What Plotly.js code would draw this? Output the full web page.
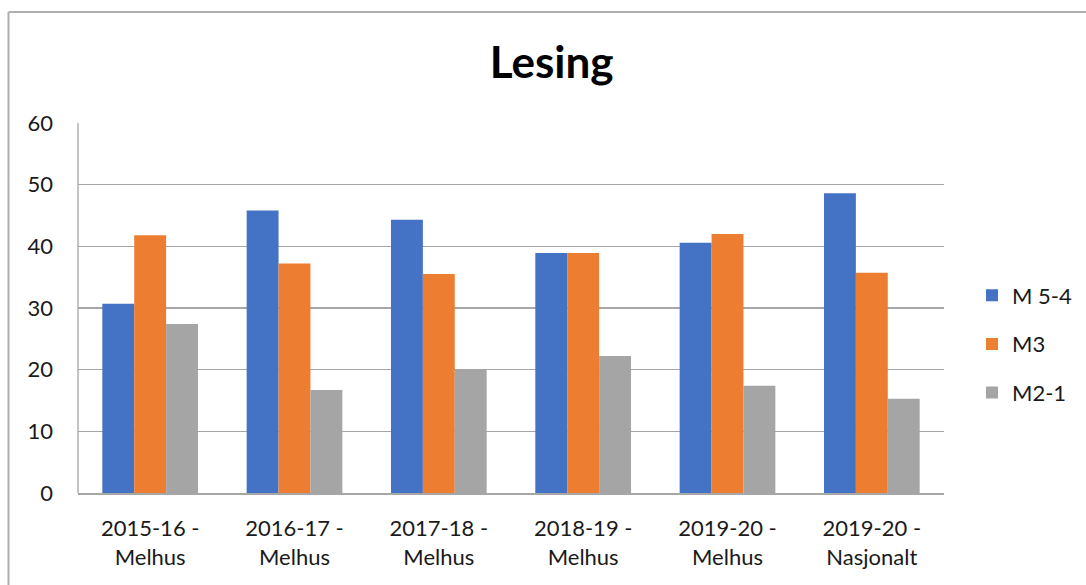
<!DOCTYPE html>
<html>
<head>
<meta charset="utf-8">
<script src="https://cdn.plot.ly/plotly-3.0.1.min.js"></script>
<style>html,body{margin:0;padding:0;background:#fff;}#chart{width:1086px;height:585px;}</style>
</head>
<body>
<div id="chart"></div>
<script>
const categories = ["2015-16 -<br>Melhus", "2016-17 -<br>Melhus", "2017-18 -<br>Melhus", "2018-19 -<br>Melhus", "2019-20 -<br>Melhus", "2019-20 -<br>Nasjonalt"];
const seriesNames = ["M 5-4", "M3", "M2-1"];
const m54 = [30.7, 45.8, 44.3, 38.9, 40.6, 48.6];
const m3 = [41.8, 37.2, 35.5, 38.9, 42.0, 35.7];
const m21 = [27.4, 16.7, 20.0, 22.2, 17.4, 15.3];
const colors = ["#4472C4", "#ED7D31", "#A5A5A5"];
const yTicks = [0, 10, 20, 30, 40, 50, 60];

const W = 1086, H = 585;
const M = {l: 78, r: 142, t: 123, b: 92, autoexpand: false};
const pw = W - M.l - M.r, ph = H - M.t - M.b;
const px = x => (x - M.l) / pw;
const py = y => (H - M.b - y) / ph;

const font = "Lato, 'Open Sans', sans-serif";
const data = [m54, m3, m21].map((vals, i) => ({
  type: "bar",
  name: seriesNames[i],
  x: categories,
  y: vals,
  marker: {color: colors[i]},
  legendgroup: "g" + i,
  hoverinfo: "x+y+name"
}));

const layout = {
  width: W, height: H,
  margin: M,
  paper_bgcolor: "#fff",
  plot_bgcolor: "#fff",
  font: {family: font, color: "#404040", size: 22},
  title: {text: "<b>Lesing</b>", font: {family: font, size: 44, color: "#000"}, x: 0.508, xanchor: "center", y: 0.893, yanchor: "middle"},
  barmode: "group",
  bargap: 0.337,
  bargroupgap: 0,
  xaxis: {
    showgrid: false, showline: true, linecolor: "#A6A6A6", linewidth: 1.5,
    ticks: "", tickfont: {size: 22, color: "#1a1a1a"}, ticklabelstandoff: 15, fixedrange: true
  },
  yaxis: {
    range: [0, 60], tickvals: yTicks, ticktext: yTicks.map(String),
    showgrid: true, gridcolor: "#A6A6A6", gridwidth: 1.3,
    zeroline: false, showline: false, ticks: "",
    tickfont: {size: 22, color: "#1a1a1a"}, ticklabelstandoff: 24, fixedrange: true
  },
  showlegend: true,
  legend: {
    x: px(972), xanchor: "left", y: py(344), yanchor: "middle",
    font: {size: 22, color: "#1a1a1a"},
    traceorder: "grouped", tracegroupgap: 17,
    itemwidth: 30, bgcolor: "rgba(0,0,0,0)"
  },
  shapes: [
    {type: "line", xref: "paper", yref: "paper", x0: px(8.5), x1: px(8.5), y0: py(12), y1: py(600), line: {color: "#AFAFAF", width: 2}},
    {type: "line", xref: "paper", yref: "paper", x0: px(8.5), x1: px(1090), y0: py(12), y1: py(12), line: {color: "#AFAFAF", width: 2}},
    {type: "line", xref: "paper", yref: "paper", x0: 0, x1: 0, y0: 0, y1: 1, line: {color: "#A6A6A6", width: 1.3}}
  ]
};

Plotly.newPlot("chart", data, layout, {displayModeBar: false, staticPlot: true});
</script>
</body>
</html>
